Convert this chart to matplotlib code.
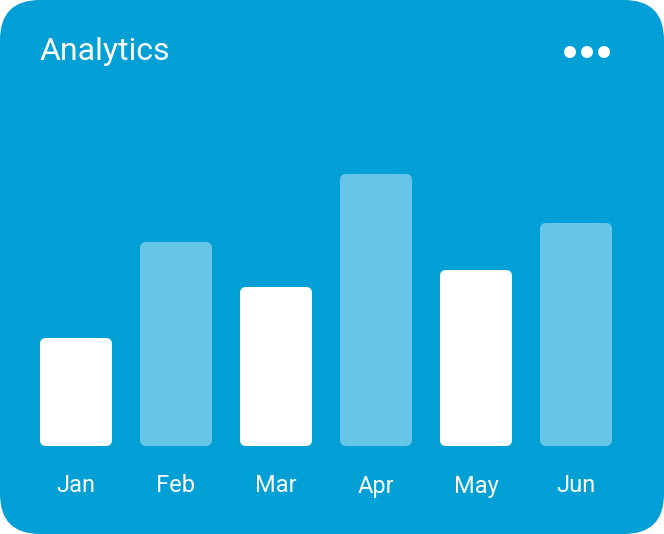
import matplotlib
matplotlib.use("Agg")
import matplotlib.pyplot as plt
from matplotlib.patches import FancyBboxPatch, Circle

months = ["Jan", "Feb", "Mar", "Apr", "May", "Jun"]
values = [108, 204, 159, 272, 176, 223]
highlight = [False, True, False, True, False, True]

BG = "#009FD6"
LIGHT = "#66C5E8"

fig = plt.figure(figsize=(6.64, 5.34), dpi=100)
fig.patch.set_facecolor("white")
ax = fig.add_axes([0, 0, 1, 1])
ax.set_xlim(0, 664)
ax.set_ylim(534, 0)
ax.axis("off")

# card
ax.add_patch(FancyBboxPatch((0, 0), 664, 534, boxstyle="round,pad=0,rounding_size=40",
                            fc=BG, ec="none"))

ax.text(40, 52, "Analytics", color="white", fontsize=23, family="Roboto",
        va="center", ha="left")
for cx in (570, 587, 604):
    ax.add_patch(Circle((cx, 52), 6, fc="white", ec="none"))

base = 446
for i, (m, v, h) in enumerate(zip(months, values, highlight)):
    x = 40 + i * 100
    ax.add_patch(FancyBboxPatch((x, base - v), 72, v,
                                boxstyle="round,pad=0,rounding_size=6",
                                fc=LIGHT if h else "white", ec="none"))
    ax.text(x + 36, 486, m, color="white", fontsize=17, family="Roboto",
            ha="center", va="center")

fig.savefig("out.png", dpi=100)
